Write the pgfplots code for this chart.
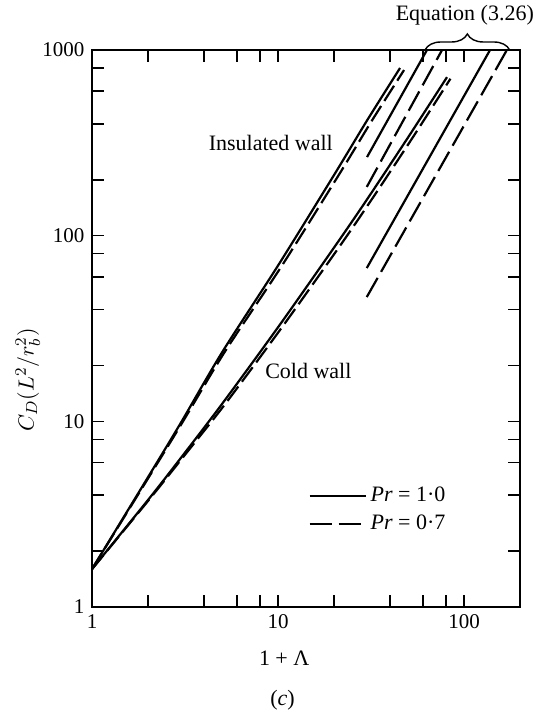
\documentclass[border=0pt]{standalone}
\usepackage{fontspec}
\setmainfont{Liberation Serif}
\usepackage{pgfplots}
\pgfplotsset{compat=1.18}
\usetikzlibrary{decorations.pathreplacing}

\pgfplotstableread{
x y
1 1.6
2 5.0
3 9.8
5 23.5
10 69
20 212
30 415
45.3 800
}\insSolid
\pgfplotstableread{
x y
1 1.6
2.02 5.0
3.05 9.8
5.15 23.5
10.5 69
21.2 212
31.9 415
47.6 780
}\insDash
\pgfplotstableread{
x y
1 1.6
2 3.77
3 6.34
5 12.4
10 32.1
20 86.2
30 156
50 338
81 714
}\coldSolid
\pgfplotstableread{
x y
1 1.6
2.02 3.77
3.06 6.34
5.2 12.4
10.5 32.1
21.2 86.2
31.8 156
53 338
84.5 700
}\coldDash

\begin{document}
\fontsize{11}{13}\selectfont
\begin{tikzpicture}
\useasboundingbox (-46pt,-54pt) rectangle (224pt,303.5pt);
\begin{axis}[
  at={(0,0)}, anchor=south west,
  scale only axis, width=214pt, height=278.5pt,
  xmode=log, ymode=log,
  xmin=1, xmax=200, ymin=1, ymax=1000,
  xtick={1,10,100}, xticklabels={1,10,100},
  ytick={1,10,100,1000}, yticklabels={1,10,100,1000},
  minor xtick={2,4,6,8,20,40,60,80},
  minor ytick={2,4,6,8,20,40,60,80,200,400,600,800},
  major tick length=6pt, minor tick length=6pt,
  tick style={line width=0.8pt, black},
  axis line style={line width=0.8pt},
  tick label style={font=\fontsize{10.5}{12}\selectfont},
  clip=false,
  ylabel={$C_D(L^2/r_b^2)$},
  ylabel style={at={(axis description cs:-0.15,0.408)}, anchor=center, font=\fontsize{11}{13}\selectfont},
  legend style={draw=none, fill=none, at={(axis cs:14.5,3.33)}, anchor=west,
    font=\fontsize{11}{13}\selectfont, row sep=1pt, inner sep=0pt},
  legend cell align=left,
  legend image code/.code={\draw[#1] (0pt,0pt) -- (28pt,0pt);},
  every axis plot/.append style={line width=1.1pt, black},
]
\addlegendimage{solid, line width=1.1pt}
\addlegendentry{\textit{Pr} = 1·0}
\addlegendimage{dash pattern=on 11pt off 3.5pt, line width=1.1pt}
\addlegendentry{\textit{Pr} = 0·7}

\addplot[forget plot, smooth] table {\insSolid};
\addplot[forget plot, smooth, dash pattern=on 9pt off 3pt] table {\insDash};
\addplot[forget plot, smooth] table {\coldSolid};
\addplot[forget plot, smooth, dash pattern=on 9pt off 3pt] table {\coldDash};

\addplot[forget plot] coordinates {(30.1,265) (63.2,1000)};
\addplot[forget plot, dash pattern=on 11pt off 3.5pt] coordinates {(30,183) (76.2,1000)};
\addplot[forget plot] coordinates {(30,66.9) (138,1000)};
\addplot[forget plot, dash pattern=on 11pt off 3.5pt] coordinates {(30,46.7) (170,1000)};

\node[anchor=east, inner sep=0pt] at (axis cs:19.8,315) {Insulated wall};
\node[anchor=west, inner sep=0pt] at (axis cs:8.5,18.7) {Cold wall};
\draw[line width=0.7pt, decorate, decoration={brace, amplitude=8pt}] (axis cs:61.7,1000) -- (axis cs:176,1000);
\node at (axis cs:101,1000) [yshift=17.5pt] {Equation (3.26)};
\node at (axis description cs:0.449,-0.0916) {1 + Λ};
\node at (axis description cs:0.445,-0.167) {(\textit{c})};
\end{axis}
\end{tikzpicture}
\end{document}
